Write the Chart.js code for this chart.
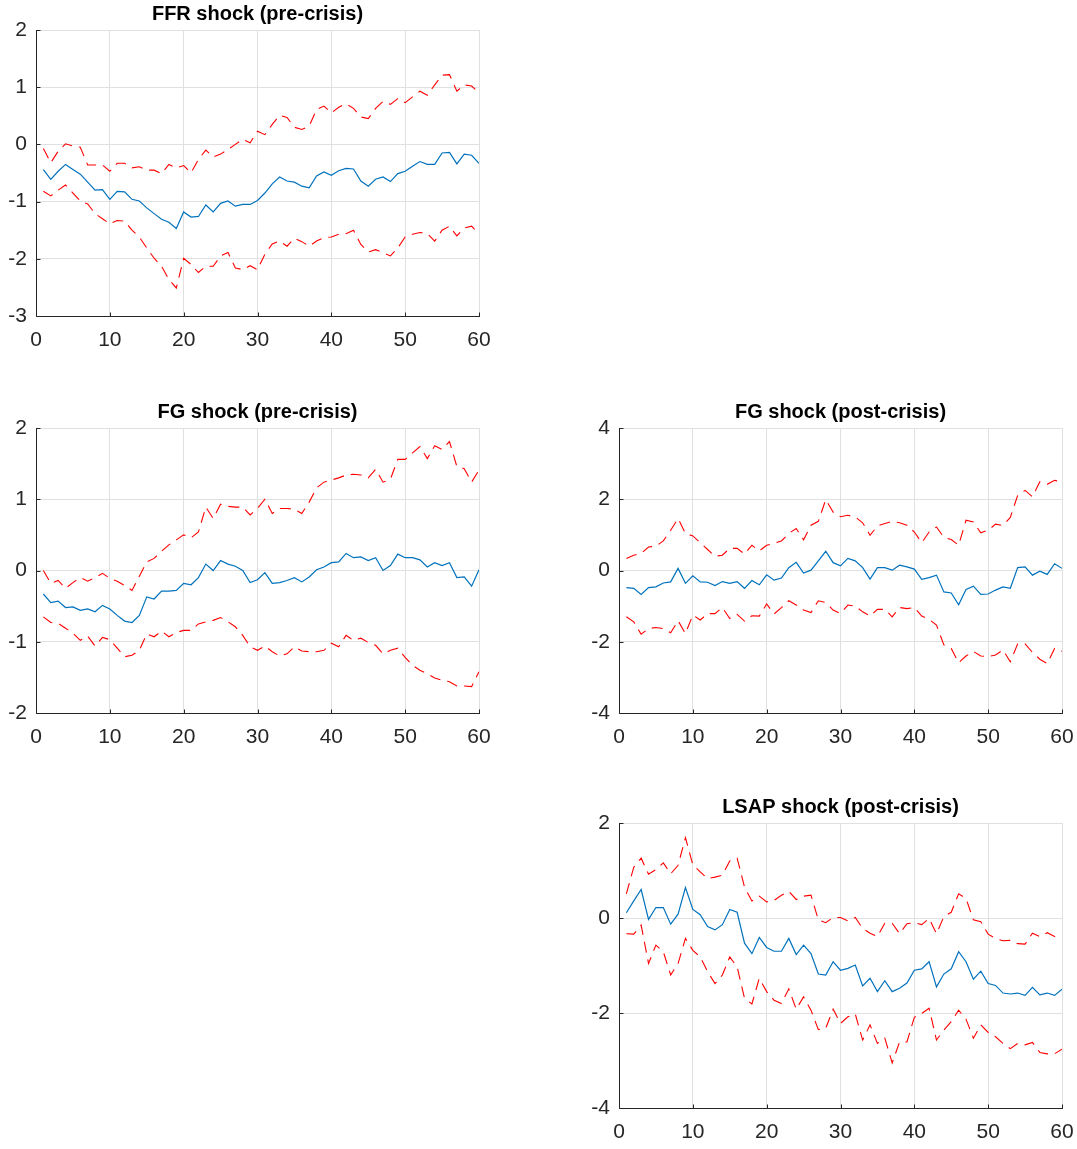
<!DOCTYPE html>
<html>
<head>
<meta charset="utf-8">
<title>Impulse responses</title>
<script src="https://cdn.jsdelivr.net/npm/chart.js@4.4.1/dist/chart.umd.min.js"></script>
<style>
  body { margin: 0; background: #fff; }
  canvas { position: absolute; }
</style>
</head>
<body>
<canvas id="c1" width="490" height="360" style="left:0;top:0"></canvas>
<canvas id="c2" width="490" height="360" style="left:0;top:398px"></canvas>
<canvas id="c3" width="494" height="360" style="left:583px;top:398px"></canvas>
<canvas id="c4" width="494" height="356" style="left:583px;top:793px"></canvas>
<script>
// horizon (months)
var horizon = [1,2,3,4,5,6,7,8,9,10,11,12,13,14,15,16,17,18,19,20,
               21,22,23,24,25,26,27,28,29,30,31,32,33,34,35,36,37,38,39,40,
               41,42,43,44,45,46,47,48,49,50,51,52,53,54,55,56,57,58,59,60];

// FFR shock (pre-crisis)
var ffrPreMid = [-0.44,-0.61,-0.47,-0.35,-0.44,-0.52,-0.66,-0.80,-0.79,-0.96,
                 -0.82,-0.83,-0.96,-0.99,-1.11,-1.21,-1.31,-1.36,-1.47,-1.18,
                 -1.27,-1.26,-1.06,-1.18,-1.03,-0.99,-1.08,-1.05,-1.05,-0.98,
                 -0.85,-0.69,-0.57,-0.64,-0.66,-0.73,-0.76,-0.55,-0.48,-0.54,
                 -0.46,-0.42,-0.43,-0.64,-0.73,-0.61,-0.57,-0.65,-0.51,-0.47,
                 -0.38,-0.30,-0.35,-0.35,-0.15,-0.14,-0.34,-0.17,-0.19,-0.33];
var ffrPreUp = [-0.07,-0.32,-0.12,0.01,-0.03,-0.05,-0.36,-0.36,-0.36,-0.47,
                -0.33,-0.33,-0.41,-0.39,-0.45,-0.45,-0.51,-0.35,-0.41,-0.37,
                -0.50,-0.26,-0.10,-0.22,-0.17,-0.09,0.00,0.09,0.03,0.23,
                0.17,0.35,0.51,0.47,0.30,0.26,0.32,0.61,0.67,0.55,
                0.65,0.71,0.63,0.48,0.45,0.63,0.75,0.70,0.80,0.73,
                0.83,0.93,0.86,1.04,1.21,1.22,0.93,1.04,1.02,0.90];
var ffrPreLo = [-0.82,-0.90,-0.80,-0.71,-0.85,-0.99,-1.04,-1.21,-1.30,-1.39,
                -1.33,-1.34,-1.50,-1.62,-1.81,-1.99,-2.13,-2.36,-2.51,-1.99,
                -2.10,-2.24,-2.13,-2.13,-1.95,-1.89,-2.16,-2.19,-2.12,-2.19,
                -1.92,-1.74,-1.69,-1.78,-1.64,-1.70,-1.78,-1.69,-1.63,-1.62,
                -1.57,-1.56,-1.50,-1.75,-1.88,-1.84,-1.89,-1.95,-1.81,-1.62,
                -1.57,-1.54,-1.56,-1.69,-1.50,-1.43,-1.60,-1.46,-1.43,-1.57];

// FG shock (pre-crisis)
var fgPreMid = [-0.33,-0.45,-0.43,-0.52,-0.51,-0.56,-0.54,-0.58,-0.49,-0.54,
                -0.63,-0.71,-0.73,-0.63,-0.37,-0.40,-0.29,-0.29,-0.28,-0.18,
                -0.20,-0.10,0.09,0.00,0.14,0.09,0.06,0.00,-0.17,-0.13,
                -0.03,-0.18,-0.17,-0.14,-0.10,-0.16,-0.09,0.01,0.05,0.11,
                0.12,0.24,0.18,0.19,0.14,0.18,0.00,0.07,0.23,0.18,
                0.18,0.15,0.05,0.11,0.07,0.11,-0.10,-0.09,-0.22,0.01];
var fgPreUp = [0.00,-0.18,-0.14,-0.25,-0.17,-0.10,-0.15,-0.10,-0.04,-0.11,
               -0.15,-0.21,-0.28,-0.08,0.12,0.17,0.27,0.36,0.43,0.50,
               0.46,0.54,0.89,0.73,0.93,0.90,0.89,0.89,0.78,0.87,
               1.00,0.80,0.87,0.87,0.86,0.80,0.96,1.16,1.24,1.27,
               1.30,1.34,1.35,1.34,1.30,1.42,1.24,1.28,1.56,1.56,
               1.65,1.74,1.57,1.75,1.70,1.81,1.46,1.43,1.24,1.41];
var fgPreLo = [-0.65,-0.73,-0.74,-0.81,-0.88,-0.98,-0.92,-1.06,-0.94,-0.97,
               -1.09,-1.21,-1.19,-1.12,-0.89,-0.93,-0.85,-0.93,-0.87,-0.84,
               -0.84,-0.75,-0.72,-0.70,-0.66,-0.72,-0.79,-0.91,-1.07,-1.12,
               -1.06,-1.14,-1.20,-1.17,-1.07,-1.13,-1.14,-1.14,-1.12,-1.02,
               -1.07,-0.91,-0.98,-0.95,-1.01,-1.05,-1.17,-1.12,-1.09,-1.22,
               -1.33,-1.40,-1.45,-1.51,-1.54,-1.56,-1.62,-1.62,-1.63,-1.42];

// FG shock (post-crisis)
var fgPostMid = [-0.48,-0.50,-0.67,-0.48,-0.46,-0.35,-0.32,0.06,-0.36,-0.15,
                 -0.32,-0.33,-0.42,-0.31,-0.36,-0.31,-0.50,-0.28,-0.40,-0.12,
                 -0.27,-0.21,0.08,0.23,-0.07,0.01,0.27,0.54,0.22,0.13,
                 0.34,0.27,0.08,-0.24,0.08,0.08,0.01,0.15,0.10,0.04,
                 -0.25,-0.20,-0.13,-0.60,-0.63,-0.96,-0.53,-0.44,-0.67,-0.66,
                 -0.55,-0.46,-0.50,0.08,0.10,-0.13,-0.02,-0.11,0.19,0.06];
var fgPostUp = [0.34,0.43,0.48,0.66,0.68,0.83,1.13,1.46,1.04,0.97,
                0.78,0.59,0.40,0.43,0.62,0.62,0.46,0.71,0.55,0.71,
                0.76,0.83,1.04,1.18,0.86,1.27,1.38,1.99,1.64,1.51,
                1.55,1.50,1.34,0.99,1.25,1.32,1.38,1.34,1.27,1.08,
                0.78,1.08,1.22,0.93,0.87,0.71,1.41,1.36,1.06,1.13,
                1.30,1.26,1.49,2.11,2.25,2.07,2.49,2.42,2.53,2.49];
var fgPostLo = [-1.30,-1.44,-1.79,-1.63,-1.60,-1.63,-1.75,-1.41,-1.77,-1.25,
                -1.39,-1.21,-1.21,-1.04,-1.35,-1.23,-1.42,-1.27,-1.28,-0.94,
                -1.22,-1.04,-0.85,-0.97,-1.11,-1.18,-0.85,-0.90,-1.11,-1.21,
                -0.97,-1.00,-1.16,-1.28,-1.09,-1.09,-1.30,-1.04,-1.07,-1.04,
                -1.28,-1.37,-1.53,-2.09,-2.19,-2.59,-2.40,-2.27,-2.40,-2.42,
                -2.37,-2.23,-2.56,-2.06,-2.06,-2.30,-2.49,-2.61,-2.19,-2.27];

// LSAP shock (post-crisis)
var lsapPostMid = [0.11,0.36,0.60,-0.03,0.22,0.22,-0.13,0.08,0.64,0.18,
                   0.07,-0.18,-0.25,-0.14,0.18,0.12,-0.53,-0.75,-0.41,-0.62,
                   -0.70,-0.70,-0.43,-0.77,-0.57,-0.75,-1.18,-1.20,-0.92,-1.10,
                   -1.06,-0.99,-1.43,-1.27,-1.55,-1.32,-1.55,-1.48,-1.37,-1.10,
                   -1.07,-0.92,-1.45,-1.18,-1.07,-0.71,-0.92,-1.29,-1.12,-1.38,
                   -1.42,-1.58,-1.60,-1.58,-1.63,-1.46,-1.62,-1.58,-1.63,-1.50];
var lsapPostUp = [0.51,1.07,1.26,0.92,1.02,1.16,0.93,1.11,1.69,1.12,
                  0.97,0.83,0.86,0.90,1.20,1.26,0.65,0.36,0.46,0.34,
                  0.37,0.48,0.56,0.39,0.46,0.48,-0.04,-0.10,0.01,0.01,
                  -0.06,0.01,-0.22,-0.32,-0.39,-0.11,-0.11,-0.33,-0.12,-0.10,
                  -0.14,-0.01,-0.33,0.03,0.12,0.51,0.41,-0.04,-0.08,-0.34,
                  -0.43,-0.48,-0.47,-0.54,-0.55,-0.32,-0.39,-0.31,-0.39,-0.40];
var lsapPostLo = [-0.33,-0.34,-0.15,-0.96,-0.57,-0.71,-1.20,-0.96,-0.43,-0.68,
                  -0.82,-1.13,-1.38,-1.20,-0.82,-1.03,-1.69,-1.81,-1.27,-1.55,
                  -1.73,-1.80,-1.49,-1.92,-1.66,-1.94,-2.35,-2.32,-1.92,-2.22,
                  -2.08,-2.02,-2.57,-2.25,-2.64,-2.53,-3.05,-2.61,-2.61,-2.09,
                  -2.01,-1.90,-2.57,-2.36,-2.18,-1.94,-2.13,-2.53,-2.25,-2.41,
                  -2.50,-2.64,-2.75,-2.64,-2.67,-2.62,-2.83,-2.86,-2.86,-2.76];

var FONT = '"Liberation Sans", Arial, Helvetica, sans-serif';
var AXIS = '#262626';
var GRID = '#e0e0e0';

// matlab style: dark left/bottom axis with small inward ticks
var matlabAxes = {
    id: 'matlabAxes',
    afterDraw: function(chart){
        var ctx = chart.ctx, a = chart.chartArea
        var xs = chart.scales.x, ys = chart.scales.y
        ctx.save()
        ctx.strokeStyle = AXIS
        ctx.lineWidth = 1
        ctx.beginPath()
        var l = Math.round(a.left) + 0.5, b = Math.round(a.bottom) + 0.5
        ctx.moveTo(l, Math.round(a.top))
        ctx.lineTo(l, b)
        ctx.lineTo(Math.round(a.right) + 1, b)
        xs.ticks.forEach(function(t){
            var px = Math.round(xs.getPixelForValue(t.value)) + 0.5
            ctx.moveTo(px, b)
            ctx.lineTo(px, b - 4)
        })
        ys.ticks.forEach(function(t){
            var py = Math.round(ys.getPixelForValue(t.value)) + 0.5
            ctx.moveTo(l, py)
            ctx.lineTo(l + 4, py)
        })
        ctx.stroke()
        ctx.restore()
    }
}

function makePanel(id, title, mid, up, lo, yMin, yMax, yStep, xHeight, padRight){
    var ctx = document.getElementById(id).getContext('2d')
    return new Chart(ctx, {
        type: 'line',
        data: {
            labels: horizon,
            datasets: [
                { data: up, borderColor: '#ff0000', borderWidth: 1.1, borderDash: [11, 7], pointRadius: 0, fill: false },
                { data: lo, borderColor: '#ff0000', borderWidth: 1.1, borderDash: [11, 7], pointRadius: 0, fill: false },
                { data: mid, borderColor: '#0072bd', borderWidth: 1.2, pointRadius: 0, fill: false }
            ]
        },
        options: {
            responsive: false,
            animation: false,
            layout: { padding: { left: 0, right: padRight, top: 0, bottom: 0 } },
            plugins: {
                legend: { display: false },
                tooltip: { enabled: false },
                title: {
                    display: true,
                    fullSize: false,   // center over the plot area, like matlab
                    text: title,
                    color: '#000',
                    font: { family: FONT, size: 20, weight: 'bold' },
                    padding: { top: 2, bottom: 4 }
                }
            },
            scales: {
                x: {
                    type: 'linear',
                    min: 0, max: 60,
                    ticks: { stepSize: 10, color: AXIS, font: { family: FONT, size: 21 }, padding: 12, maxRotation: 0 },
                    grid: { color: GRID, drawTicks: false },
                    border: { display: false },
                    afterFit: function(s){
                        s.height = xHeight
                        s.paddingLeft = 0
                        s.paddingRight = 0
                    }
                },
                y: {
                    min: yMin, max: yMax,
                    ticks: { stepSize: yStep, color: AXIS, font: { family: FONT, size: 21 }, padding: 9 },
                    grid: { color: GRID, drawTicks: false },
                    border: { display: false },
                    afterFit: function(s){
                        s.width = 36
                        s.paddingTop = 0
                        s.paddingBottom = 0
                    }
                }
            }
        },
        plugins: [matlabAxes]
    })
}

makePanel('c1', 'FFR shock (pre-crisis)', ffrPreMid, ffrPreUp, ffrPreLo, -3, 2, 1, 44, 11)
makePanel('c2', 'FG shock (pre-crisis)', fgPreMid, fgPreUp, fgPreLo, -2, 2, 1, 45, 11)
makePanel('c3', 'FG shock (post-crisis)', fgPostMid, fgPostUp, fgPostLo, -4, 4, 2, 45, 15)
makePanel('c4', 'LSAP shock (post-crisis)', lsapPostMid, lsapPostUp, lsapPostLo, -4, 2, 2, 41, 15)
</script>
</body>
</html>
